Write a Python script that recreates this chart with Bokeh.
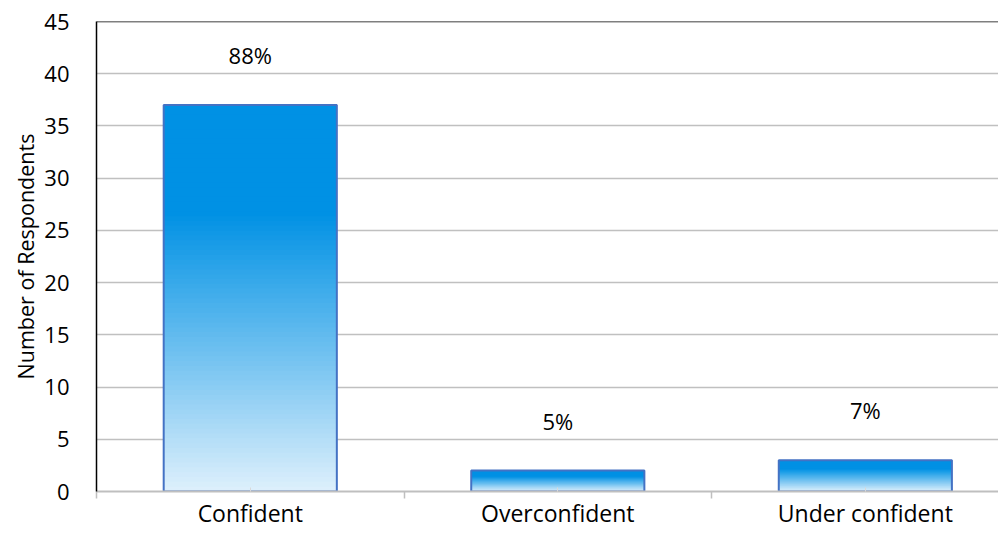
from bokeh.plotting import figure
from bokeh.models import Range1d, FixedTicker, Span, ColumnDataSource
from bokeh.core.properties import value
from bokeh.embed import file_html
from bokeh.resources import INLINE

categories = ["Confident", "Overconfident", "Under confident"]
counts = [37, 2, 3]
pct_labels = ["88%", "5%", "7%"]
y_ticks = [0, 5, 10, 15, 20, 25, 30, 35, 40, 45]

FONT = "Open Sans"
N = 80
BAR_W = 0.563
DARK = (0, 145, 228)
LIGHT = (222, 240, 252)
DARK_FRAC = 0.28

centers = [i + 0.5 for i in range(len(categories))]

p = figure(width=998, height=531, output_backend="svg", toolbar_location=None,
           x_range=Range1d(0, 2.933), y_range=Range1d(0, 45),
           min_border_left=96, min_border_right=0, min_border_top=21, min_border_bottom=0)
p.outline_line_color = None
p.background_fill_color = "white"
p.border_fill_color = "white"

def grad_color(t):
    # t: fraction from top of bar (0 top, 1 bottom)
    if t <= DARK_FRAC:
        c = DARK
    else:
        f = (t - DARK_FRAC) / (1 - DARK_FRAC)
        c = tuple(int(round(DARK[k] + (LIGHT[k] - DARK[k]) * f)) for k in range(3))
    return "#%02x%02x%02x" % c

xs, tops, cols = [], [], []
for cx, v in zip(centers, counts):
    for i in range(N):
        frac_top = 1 - i / N
        xs.append(cx)
        tops.append(v * frac_top)
        cols.append(grad_color((i + 0.5) / N))

src = ColumnDataSource(dict(x=xs, top=tops, color=cols))
p.vbar(x="x", top="top", bottom=0, width=BAR_W, fill_color="color", line_color=None, source=src)

p.vbar(x=centers, top=counts, bottom=0, width=BAR_W, fill_color=None,
       line_color="#4472C4", line_width=2)

lab_src = ColumnDataSource(dict(x=centers, y=counts, t=pct_labels))
p.text(x="x", y="y", text="t", source=lab_src, text_align="center", text_baseline="middle",
       y_offset=-50, text_font=value(FONT), text_font_size="22px", text_color="black")

p.add_layout(Span(location=45, dimension="width", line_color="black", line_width=1.5))

# y axis
p.yaxis.ticker = FixedTicker(ticks=y_ticks)
p.yaxis.axis_line_color = "black"
p.yaxis.axis_line_width = 1.5
p.yaxis.major_tick_out = 0
p.yaxis.major_tick_in = 0
p.yaxis.minor_tick_out = 0
p.yaxis.minor_tick_in = 0
p.yaxis.major_label_standoff = 27
p.yaxis.major_label_text_font = FONT
p.yaxis.major_label_text_font_size = "22px"
p.yaxis.major_label_text_color = "black"
p.yaxis.axis_label = "Number of Respondents"
p.yaxis.axis_label_text_font = FONT
p.yaxis.axis_label_text_font_size = "21.5px"
p.yaxis.axis_label_text_font_style = "normal"
p.yaxis.axis_label_text_color = "black"
p.yaxis.axis_label_standoff = 1

# x axis
p.xaxis.ticker = FixedTicker(ticks=centers, minor_ticks=[0, 1, 2, 3])
p.xaxis.major_label_overrides = {c: name for c, name in zip(centers, categories)}
p.xaxis.axis_line_color = "#BFBFBF"
p.xaxis.axis_line_width = 2
p.xaxis.major_tick_in = 4
p.xaxis.major_tick_out = 0
p.xaxis.major_tick_line_color = "#D9D9D9"
p.xaxis.minor_tick_in = 0
p.xaxis.minor_tick_out = 7
p.xaxis.minor_tick_line_color = "#BFBFBF"
p.xaxis.minor_tick_line_width = 1.5
p.xaxis.major_label_standoff = -2
p.xaxis.major_label_text_font = FONT
p.xaxis.major_label_text_font_size = "23px"
p.xaxis.major_label_text_color = "black"

p.xgrid.grid_line_color = None
p.ygrid.grid_line_color = "#C0C0C0"
p.ygrid.grid_line_width = 1.5

open("out.html", "w").write(file_html(p, INLINE))
